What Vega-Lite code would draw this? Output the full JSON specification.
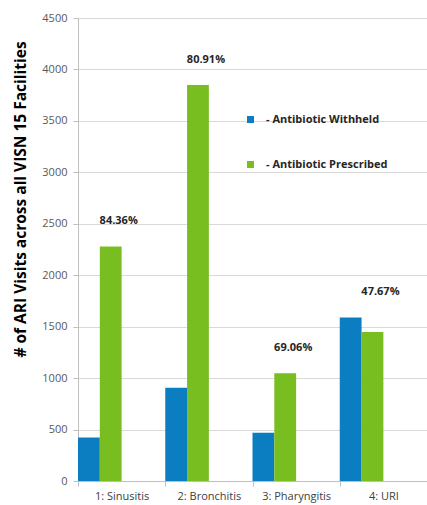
{
  "$schema": "https://vega.github.io/schema/vega-lite/v6.json",
  "width": 349,
  "height": 463,
  "autosize": {"type": "none"},
  "padding": {"left": 78, "top": 18, "right": 0, "bottom": 24},
  "background": "white",
  "config": {
    "view": {"stroke": null},
    "font": "Open Sans"
  },
  "datasets": {
    "visits": [
      {"category": "1: Sinusitis", "series": "Withheld", "count": 423, "pct": ""},
      {"category": "1: Sinusitis", "series": "Prescribed", "count": 2280, "pct": "84.36%"},
      {"category": "2: Bronchitis", "series": "Withheld", "count": 906, "pct": ""},
      {"category": "2: Bronchitis", "series": "Prescribed", "count": 3848, "pct": "80.91%"},
      {"category": "3: Pharyngitis", "series": "Withheld", "count": 468, "pct": ""},
      {"category": "3: Pharyngitis", "series": "Prescribed", "count": 1048, "pct": "69.06%"},
      {"category": "4: URI", "series": "Withheld", "count": 1590, "pct": ""},
      {"category": "4: URI", "series": "Prescribed", "count": 1448, "pct": "47.67%"}
    ]
  },
  "data": {"name": "visits"},
  "encoding": {
    "x": {
      "field": "category",
      "type": "nominal",
      "sort": null,
      "scale": {"paddingInner": 0, "paddingOuter": 0},
      "axis": {
        "title": null,
        "labelAngle": 0,
        "tickBand": "extent",
        "domainColor": "#bfbfbf",
        "tickColor": "#bfbfbf",
        "tickSize": 5,
        "labelPadding": 4,
        "labelFontSize": 11,
        "labelColor": "#404040",
        "grid": false
      }
    },
    "xOffset": {
      "field": "series",
      "type": "nominal",
      "scale": {"domain": ["Withheld", "Prescribed", "x1", "x2"], "paddingInner": 0, "paddingOuter": 0}
    }
  },
  "layer": [
    {
      "mark": {"type": "bar"},
      "encoding": {
        "y": {
          "field": "count",
          "type": "quantitative",
          "scale": {"domain": [0, 4500], "nice": false},
          "axis": {
            "values": [0, 500, 1000, 1500, 2000, 2500, 3000, 3500, 4000, 4500],
            "title": "# of ARI Visits across all VISN 15 Facilities",
            "titleFontSize": 15.5,
            "titleFontWeight": "bold",
            "titleColor": "#000000",
            "titleX": -58,
            "titleY": 181,
            "titleAngle": -90,
            "titleAlign": "center",
            "titleBaseline": "middle",
            "labelFontSize": 11,
            "labelColor": "#595959",
            "labelPadding": 6,
            "tickSize": 5,
            "tickColor": "#bfbfbf",
            "domainColor": "#bfbfbf",
            "gridColor": "#d9d9d9",
            "format": "d"
          }
        },
        "color": {
          "field": "series",
          "type": "nominal",
          "scale": {"domain": ["Withheld", "Prescribed"], "range": ["#0B7EC1", "#78BE21"]},
          "legend": {
            "title": null,
            "orient": "none",
            "legendX": 167,
            "legendY": 96,
            "symbolType": "square",
            "symbolSize": 49,
            "symbolStrokeWidth": 0,
            "labelExpr": "'- Antibiotic ' + datum.label",
            "labelFontSize": 11,
            "labelFontWeight": "bold",
            "labelColor": "#262626",
            "labelOffset": 10,
            "rowPadding": 33
          }
        }
      }
    },
    {
      "transform": [
        {"joinaggregate": [{"op": "max", "field": "count", "as": "top"}], "groupby": ["category"]},
        {"filter": "datum.series === 'Prescribed'"}
      ],
      "mark": {"type": "text", "dx": 8, "dy": -25, "fontSize": 11, "fontWeight": "bold", "color": "#262626"},
      "encoding": {
        "y": {"field": "top", "type": "quantitative"},
        "text": {"field": "pct"}
      }
    }
  ]
}
